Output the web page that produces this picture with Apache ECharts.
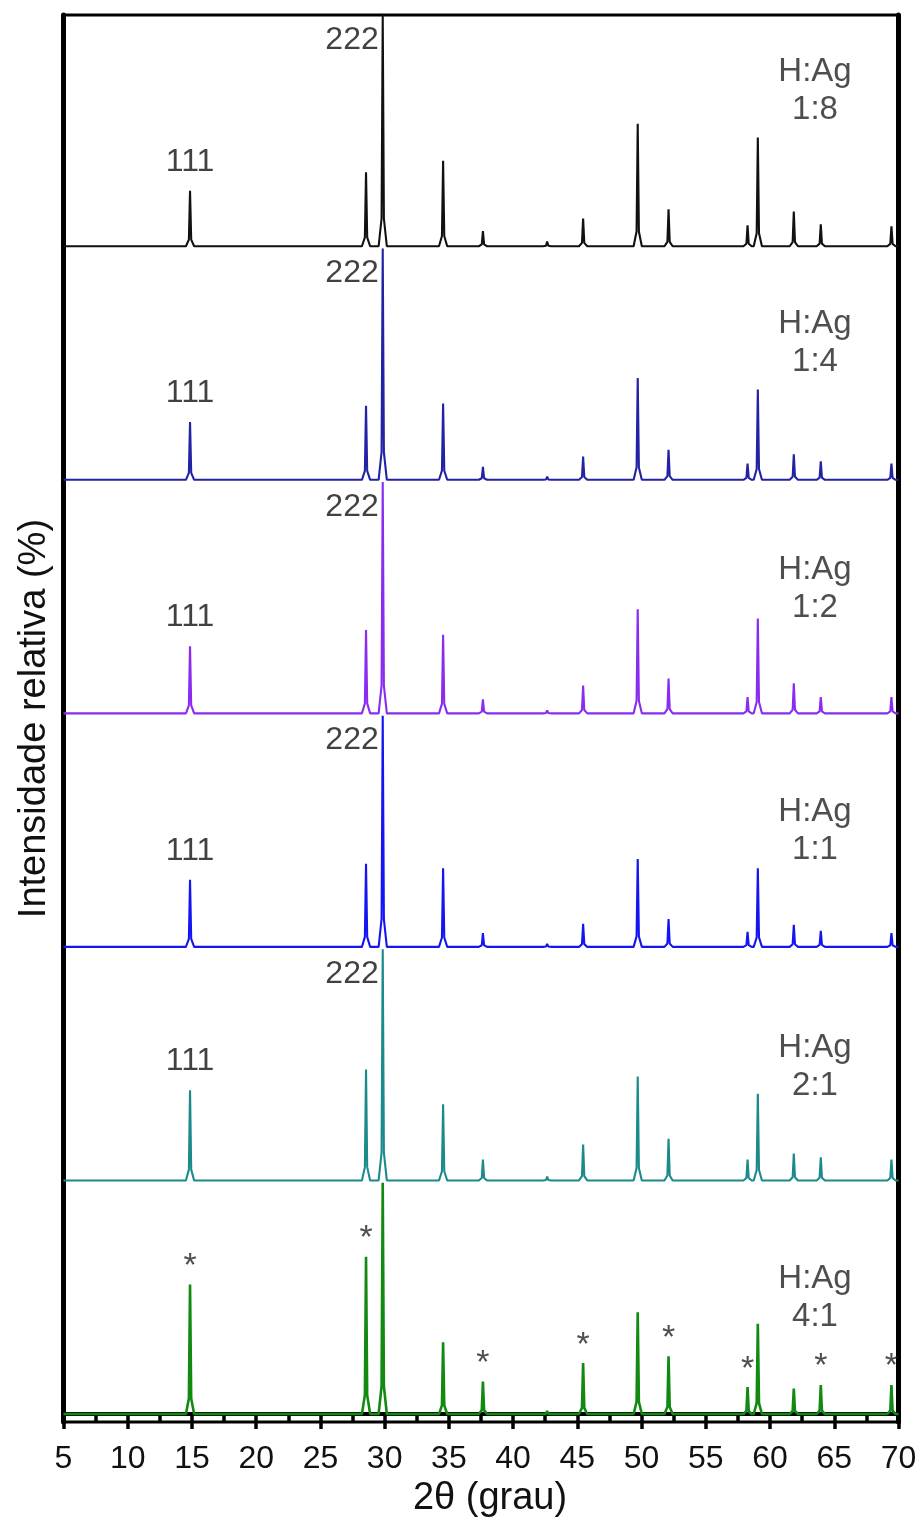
<!DOCTYPE html>
<html>
<head>
<meta charset="utf-8">
<script src="https://cdn.jsdelivr.net/npm/echarts@6/dist/echarts.min.js"></script>
<style>
  html, body { margin: 0; padding: 0; background: #fff; }
  #chart { width: 920px; height: 1523px; }
</style>
</head>
<body>
<div id="chart"></div>
<script>
// peak positions (2θ) shared by every pattern
const angles = [14.85, 28.55, 29.85, 34.55, 37.65, 42.65, 45.45, 49.7, 52.1, 58.25, 59.05, 61.85, 63.95, 69.45];

// relative intensity (%) of each peak, top pattern first
const ratios = ['1:8', '1:4', '1:2', '1:1', '2:1', '4:1'];
const int18 = [24, 32, 100, 37, 6.5, 2, 12, 53, 16, 9, 47, 15, 9.5, 8.6];
const int14 = [25, 32, 100, 33, 5.6, 1.3, 10, 44, 13, 7, 39, 11, 8, 7];
const int12 = [29, 36, 100, 34, 6, 1.3, 12, 45, 15, 7, 41, 13, 7, 7];
const int11 = [29, 36, 100, 34, 6, 1.3, 10, 38, 12, 6.5, 34, 9.5, 7, 6];
const int21 = [39, 48, 100, 33, 9, 1.7, 15.5, 45, 18, 9, 37.5, 11.6, 10, 9];
const int41 = [56, 68, 100, 31, 14, 1.3, 22, 44, 25, 11.6, 39, 11, 12.5, 12.5];
const intensities = [int18, int14, int12, int11, int21, int41];

// peaks marked with * in the 4:1 pattern
const starAngles = [14.85, 28.55, 37.65, 45.45, 52.1, 58.25, 63.95, 69.45];

// vertical stacking of the patterns
const offsets = [505, 404, 303, 202, 101, 0];
const colors = ['#111111', '#2222a4', '#8a2cf0', '#1515f2', '#1a8a8a', '#128a12'];
const ratioLabelY = [67, 59, 54, 50, 49, 50];

const font = "'Liberation Sans', Arial, sans-serif";
const txt = '#111';

function trace(heights, off) {
  const pts = [[5, off]];
  angles.forEach((a, i) => {
    const h = heights[i];
    pts.push([a - 0.32, off], [a - 0.09, off + h * 0.12], [a, off + h], [a + 0.09, off + h * 0.12], [a + 0.32, off]);
  });
  pts.push([70, off]);
  return pts;
}

const lineSeries = ratios.map((r, k) => ({
  name: 'H:Ag ' + r,
  type: 'line',
  data: trace(intensities[k], offsets[k]),
  showSymbol: false,
  silent: true,
  lineStyle: { color: colors[k], width: k === 5 ? 2.6 : 2.1 },
  z: 2 + k
}));

const hklData = [];
ratios.slice(0, 5).forEach((r, k) => {
  const i111 = angles.indexOf(14.85);
  const i222 = angles.indexOf(29.85);
  hklData.push({ value: [14.85, offsets[k] + intensities[k][i111]], label: { formatter: '111', position: 'top', distance: 13 } });
  hklData.push({ value: [29.85, offsets[k] + intensities[k][i222]], label: { formatter: '222', position: 'left', distance: 4, offset: [0, 25] } });
});

const starData = starAngles.map(a => [a, offsets[5] + int41[angles.indexOf(a)]]);

const ratioData = ratios.map((r, k) => ({ value: [63.5, offsets[k] + ratioLabelY[k]], label: { formatter: 'H:Ag\n' + r } }));

const chart = echarts.init(document.getElementById('chart'), null, { renderer: 'canvas' });
chart.setOption({
  animation: false,
  backgroundColor: '#fff',
  grid: { left: 63.5, right: 21.5, top: 15, bottom: 96, show: true, borderColor: '#000', borderWidth: 3 },
  xAxis: {
    type: 'value', min: 5, max: 70, interval: 5,
    name: '2θ (grau)', nameLocation: 'middle', nameGap: 55,
    nameTextStyle: { fontFamily: font, fontSize: 38, color: txt, padding: [0, 0, 0, 18] },
    axisLine: { lineStyle: { color: '#000', width: 4 } },
    axisTick: { length: 15, lineStyle: { color: '#000', width: 3.5 } },
    minorTick: { show: true, splitNumber: 2, length: 8, lineStyle: { color: '#000', width: 3.5 } },
    axisLabel: { fontFamily: font, fontSize: 32, color: txt, margin: 21 },
    splitLine: { show: false }
  },
  yAxis: [{
    type: 'value', min: -3.5, max: 605,
    name: 'Intensidade relativa (%)', nameLocation: 'middle', nameGap: 10, nameRotate: 90,
    nameTextStyle: { fontFamily: font, fontSize: 38, color: txt },
    axisLine: { show: true, lineStyle: { color: '#000', width: 5 } },
    axisTick: { show: false }, axisLabel: { show: false }, splitLine: { show: false }
  }, {
    type: 'value', min: -3.5, max: 605, position: 'right',
    axisLine: { show: true, lineStyle: { color: '#000', width: 5 } },
    axisTick: { show: false }, axisLabel: { show: false }, splitLine: { show: false }
  }],
  series: [
    ...lineSeries,
    {
      type: 'scatter', data: hklData, symbolSize: 0, silent: true, z: 10,
      label: { show: true, fontFamily: font, fontSize: 32, color: txt }
    },
    {
      type: 'scatter', data: starData, symbolSize: 0, silent: true, z: 10,
      label: { show: true, formatter: '*', position: 'top', distance: 1, fontFamily: font, fontSize: 34, color: '#222' }
    },
    {
      type: 'scatter', data: ratioData, symbolSize: 0, silent: true, z: 10,
      label: { show: true, position: 'inside', align: 'center', fontFamily: font, fontSize: 33, lineHeight: 38, color: '#222' }
    }
  ]
});
window.addEventListener('resize', () => chart.resize());
</script>
</body>
</html>
